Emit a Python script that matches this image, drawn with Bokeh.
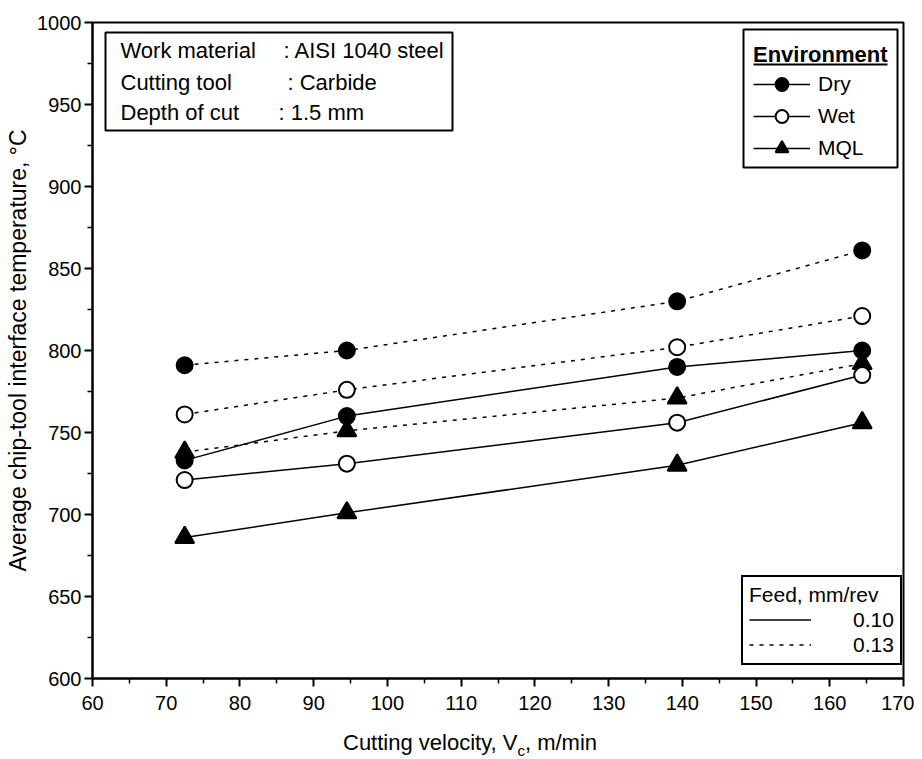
from bokeh.plotting import figure
from bokeh.models import Range1d, Label, BoxAnnotation, Legend, LegendItem, FixedTicker, Div
from bokeh.layouts import column
from bokeh.embed import file_html
from bokeh.resources import INLINE

# ---------------- data ----------------
velocity = [72.5, 94.5, 139.3, 164.4]          # cutting velocity, m/min
dry_010 = [733, 760, 790, 800]
wet_010 = [721, 731, 756, 785]
mql_010 = [686, 701, 730, 756]
dry_013 = [791, 800, 830, 861]
wet_013 = [761, 776, 802, 821]
mql_013 = [738, 751, 771, 792]

x_ticks = list(range(60, 171, 10))
x_minor = list(range(65, 170, 10))
y_ticks = list(range(600, 1001, 50))
y_minor = list(range(625, 1000, 50))

info_keys = ["Work material", "Cutting tool", "Depth of cut"]
info_vals = [": AISI 1040 steel", ": Carbide", ": 1.5 mm"]

FONT = "Liberation Sans"

# ---------------- layout helpers (canvas px -> data) ----------------
W, H = 914, 722
FL, FR, FT, FB = 92, 903, 22, 678   # frame edges in px
X0, X1, Y0, Y1 = 60, 170, 600, 1000


def px2x(px):
    return X0 + (px - FL) * (X1 - X0) / (FR - FL)


def py2y(py):
    return Y0 + (FB - py) * (Y1 - Y0) / (FB - FT)


p = figure(width=W, height=H, x_range=Range1d(X0, X1), y_range=Range1d(Y0, Y1),
           output_backend="svg", toolbar_location=None,
           min_border_left=FL, min_border_right=W - FR,
           min_border_top=FT, min_border_bottom=H - FB)
p.xgrid.visible = False
p.ygrid.visible = False
p.outline_line_color = "black"
p.outline_line_width = 2
p.outline_line_alpha = 1
p.background_fill_color = "white"
p.border_fill_color = "white"

for ax, tk, mn in ((p.xaxis, x_ticks, x_minor), (p.yaxis, y_ticks, y_minor)):
    ax.ticker = FixedTicker(ticks=tk, minor_ticks=mn)
    ax.axis_line_width = 2
    ax.axis_line_color = "black"
    ax.major_tick_line_width = 2
    ax.minor_tick_line_width = 1.5
    ax.major_tick_out = 8
    ax.major_tick_in = 0
    ax.minor_tick_out = 5
    ax.minor_tick_in = 0
    ax.major_label_text_font = FONT
    ax.major_label_text_font_size = "20px"
    ax.major_label_text_color = "black"
    ax.major_label_standoff = 3
p.xaxis.major_label_standoff = 9

p.yaxis.axis_label = "Average chip-tool interface temperature, °C"
p.yaxis.axis_label_text_font = FONT
p.yaxis.axis_label_text_font_size = "23px"
p.yaxis.axis_label_text_font_style = "normal"
p.yaxis.axis_label_text_color = "black"
p.yaxis.axis_label_standoff = 3

# ---------------- series ----------------
def series(y, dash, marker, fill, size):
    ln = p.line(velocity, y, line_color="black", line_width=1.5, line_dash=dash)
    mk = p.scatter(velocity, y, marker=marker, size=size, fill_color=fill,
                   line_color="black", line_width=2)
    return ln, mk

d13 = series(dry_013, "4 6", "circle", "black", 16)
w13 = series(wet_013, "4 6", "circle", "white", 16)
m13 = series(mql_013, "4 6", "triangle", "black", 19)
d10 = series(dry_010, "solid", "circle", "black", 16)
w10 = series(wet_010, "solid", "circle", "white", 16)
m10 = series(mql_010, "solid", "triangle", "black", 19)

# ---------------- environment legend (box drawn underneath) ----------------
p.add_layout(BoxAnnotation(left=px2x(743), right=px2x(897), top=py2y(29), bottom=py2y(167),
                           fill_color="white", fill_alpha=1, line_color="black",
                           line_alpha=1, line_width=2, level="underlay"))

common = dict(label_text_font=FONT, label_text_font_size="21px", label_text_color="black",
              title_text_font=FONT, title_text_color="black", spacing=0, margin=0)

env = Legend(items=[LegendItem(label="Dry", renderers=list(d10)),
                    LegendItem(label="Wet", renderers=list(w10)),
                    LegendItem(label="MQL", renderers=list(m10))],
             location=(743 - FL, FB - 174), title="Environment",
             title_text_font_size="22px", title_text_font_style="bold",
             glyph_width=57, glyph_height=32, label_height=32, label_standoff=8,
             padding=10, title_standoff=0,
             border_line_alpha=0, background_fill_alpha=0, **common)
p.add_layout(env)

# underline of legend title
p.add_layout(BoxAnnotation(left=px2x(753), right=px2x(887), top=py2y(63), bottom=py2y(65),
                           fill_color="black", fill_alpha=1, line_alpha=0))

# ---------------- feed legend ----------------
feed = Legend(items=[LegendItem(label="0.10", renderers=[d10[0]]),
                     LegendItem(label="0.13", renderers=[d13[0]])],
              location=(741 - FL, FB - 665), title="Feed, mm/rev",
              title_text_font_size="21px", title_text_font_style="normal",
              glyph_width=62, glyph_height=25, label_height=25, label_standoff=42,
              padding=6, title_standoff=0,
              border_line_color="black", border_line_width=2, border_line_alpha=1,
              background_fill_color="white", background_fill_alpha=1, **common)
p.add_layout(feed)

# ---------------- info box ----------------
p.add_layout(BoxAnnotation(left=px2x(105), right=px2x(452), top=py2y(32), bottom=py2y(130),
                           fill_color="white", fill_alpha=1, line_color="black",
                           line_alpha=1, line_width=2))
rows_y = [50, 82, 112]
vals_x = [283, 287, 278]
for k, v, yy, vx in zip(info_keys, info_vals, rows_y, vals_x):
    p.add_layout(Label(x=px2x(120), y=py2y(yy), text=k, text_baseline="middle",
                       text_font=FONT, text_font_size="22px", text_color="black"))
    p.add_layout(Label(x=px2x(vx), y=py2y(yy), text=v, text_baseline="middle",
                       text_font=FONT, text_font_size="22px", text_color="black"))

# ---------------- x axis title (with subscript) ----------------
xlabel = Div(text=("<div style=\"padding-left:343px;padding-top:10px;"
                   "font-family:'Liberation Sans';font-size:22px;line-height:22px;"
                   "color:black;white-space:nowrap\">Cutting velocity, V"
                   "<span style=\"font-size:15px;line-height:0;position:relative;top:6px\">c</span>"
                   ", m/min</div>"),
             width=W, height=37, margin=(0, 0, 0, 0))

layout = column(p, xlabel, spacing=0)
open("out.html", "w").write(file_html(layout, INLINE))
